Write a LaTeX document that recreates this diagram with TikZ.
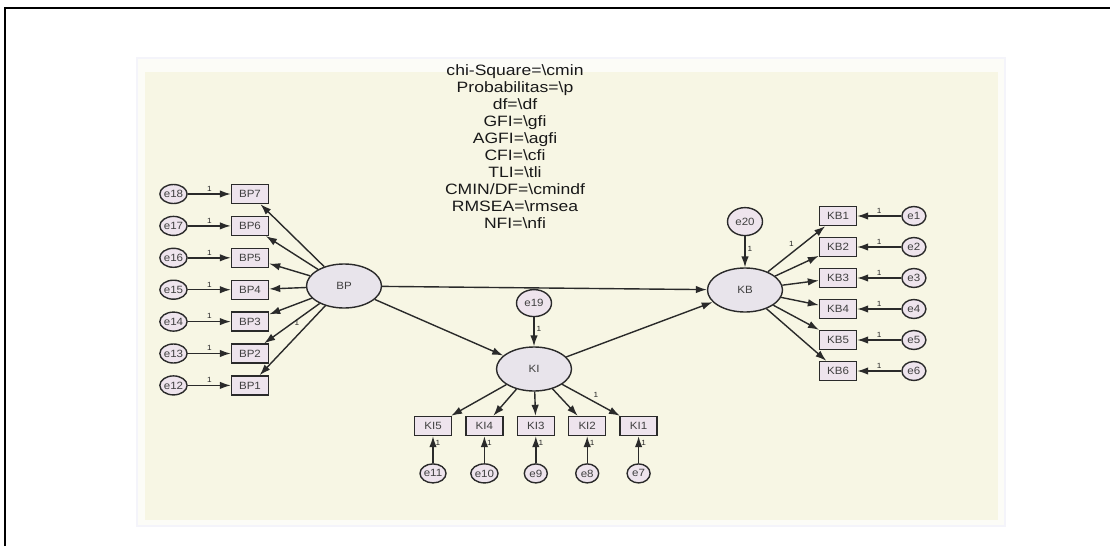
\documentclass[tikz,border=0pt]{standalone}
\usepackage{fontspec}
\setmainfont{Liberation Sans}
\newfontfamily\statfont[FakeStretch=1.17]{Liberation Sans}
\newfontfamily\labelfont[FakeStretch=1.1]{Liberation Sans}
\usetikzlibrary{positioning,arrows.meta,shapes.geometric}

\definecolor{panelcream}{HTML}{F7F6E4}
\definecolor{panelfade}{HTML}{FCFCF7}
\definecolor{panelrim}{HTML}{F4F4FA}
\definecolor{latentfill}{HTML}{E8E4EB}
\definecolor{itemfill}{HTML}{EEE4ED}
\definecolor{nodeline}{HTML}{2A2A2A}

\begin{document}
\begin{tikzpicture}[x=1pt, y=-1pt,
latentnode/.style={ellipse, draw=nodeline, line width=1.4pt, fill=latentfill, minimum width=75pt, minimum height=44pt, inner sep=0pt, font=\labelfont\fontsize{10.5}{10}\selectfont, text=black!75},
itemnode/.style={rectangle, draw=nodeline, line width=1.4pt, fill=itemfill, minimum width=37pt, minimum height=19pt, inner sep=0pt, font=\labelfont\fontsize{10.5}{10}\selectfont, text=black!75},
errnode/.style={ellipse, draw=nodeline, line width=1.4pt, fill=itemfill, minimum width=23pt, minimum height=19pt, inner sep=0pt, font=\labelfont\fontsize{10.5}{10}\selectfont, text=black!75},
bigerr/.style={errnode, minimum width=35pt, minimum height=27pt},
loadarrow/.style={-{Latex[length=11pt,width=7.5pt]}, draw=nodeline, line width=1.4pt},
one/.style={font=\labelfont\fontsize{7.5}{7}\selectfont, inner sep=2pt, text=black!85},
statnode/.style={align=center, font=\statfont\fontsize{15}{17}\selectfont, text=black!90},
]
\useasboundingbox (0,0) rectangle (1110,546);

% Panel and frame
\fill[panelfade, draw=panelrim, line width=2pt] (137,58) rectangle (1005,526);
\fill[panelcream] (145,72) rectangle (998,520);
\draw[line width=2.5pt] (5,546) -- (5,8) -- (1110,8);

% Fit text
\node[statnode] (fit) at (515,147) {chi-Square=\textbackslash cmin\\
Probabilitas=\textbackslash p\\
df=\textbackslash df\\
GFI=\textbackslash gfi\\
AGFI=\textbackslash agfi\\
CFI=\textbackslash cfi\\
TLI=\textbackslash tli\\
CMIN/DF=\textbackslash cmindf\\
RMSEA=\textbackslash rmsea\\
NFI=\textbackslash nfi};

% Latent nodes
\node[latentnode] (bp) at (344,286) {BP};
\node[latentnode] (ki) at (534,369) {KI};
\node[latentnode] (kb) at (745,290) {KB};

% BP items
\node[itemnode] (bp7) at (250,194) {BP7};
\node[itemnode] (bp6) [below=11.5pt of bp7] {BP6};
\node[itemnode] (bp5) [below=11.5pt of bp6] {BP5};
\node[itemnode] (bp4) [below=11.5pt of bp5] {BP4};
\node[itemnode] (bp3) [below=11.5pt of bp4] {BP3};
\node[itemnode] (bp2) [below=11.5pt of bp3] {BP2};
\node[itemnode] (bp1) [below=11.5pt of bp2] {BP1};
\node[errnode] (e18) [left=43pt of bp7] {e18};
\node[errnode] (e17) [left=43pt of bp6] {e17};
\node[errnode] (e16) [left=43pt of bp5] {e16};
\node[errnode] (e15) [left=43pt of bp4] {e15};
\node[errnode] (e14) [left=43pt of bp3] {e14};
\node[errnode] (e13) [left=43pt of bp2] {e13};
\node[errnode] (e12) [left=43pt of bp1] {e12};

% KI items
\node[itemnode] (ki5) at (433,426) {KI5};
\node[itemnode] (ki4) [right=13pt of ki5] {KI4};
\node[itemnode] (ki3) [right=13pt of ki4] {KI3};
\node[itemnode] (ki2) [right=13pt of ki3] {KI2};
\node[itemnode] (ki1) [right=13pt of ki2] {KI1};
\node[errnode] (e11) [below=27pt of ki5] {e11};
\node[errnode] (e10) [below=27pt of ki4] {e10};
\node[errnode] (e9) [below=27pt of ki3] {e9};
\node[errnode] (e8) [below=27pt of ki2] {e8};
\node[errnode] (e7) [below=27pt of ki1] {e7};
\node[bigerr] (e19) [above=29pt of ki] {e19};

% KB items
\node[itemnode] (kb1) at (838,216) {KB1};
\node[itemnode] (kb2) [below=10.6pt of kb1] {KB2};
\node[itemnode] (kb3) [below=10.6pt of kb2] {KB3};
\node[itemnode] (kb4) [below=10.6pt of kb3] {KB4};
\node[itemnode] (kb5) [below=10.6pt of kb4] {KB5};
\node[itemnode] (kb6) [below=10.6pt of kb5] {KB6};
\node[errnode, minimum width=24pt] (e1) [right=44pt of kb1] {e1};
\node[errnode, minimum width=24pt] (e2) [right=44pt of kb2] {e2};
\node[errnode, minimum width=24pt] (e3) [right=44pt of kb3] {e3};
\node[errnode, minimum width=24pt] (e4) [right=44pt of kb4] {e4};
\node[errnode, minimum width=24pt] (e5) [right=44pt of kb5] {e5};
\node[errnode, minimum width=24pt] (e6) [right=44pt of kb6] {e6};
\node[bigerr, minimum height=28pt] (e20) [above=31pt of kb] {e20};

% Structural arrows
\draw[loadarrow] (bp) -- (kb);
\draw[loadarrow] (bp) -- (ki);
\draw[loadarrow] (ki) -- (kb);
\draw[loadarrow] (e19) -- node[one, pos=.4, right] {1} (ki);
\draw[loadarrow] (e20) -- node[one, pos=.4, right] {1} (kb);

% BP loadings
\draw[loadarrow] (bp) -- (bp7);
\draw[loadarrow] (bp) -- (bp6);
\draw[loadarrow] (bp) -- (bp5);
\draw[loadarrow] (bp) -- (bp4);
\draw[loadarrow] (bp) -- (bp3);
\draw[loadarrow] (bp) -- node[one, pos=.5, right] {1} (bp2);
\draw[loadarrow] (bp) -- (bp1);
\draw[loadarrow] (e18) -- node[one, above] {1} (bp7);
\draw[loadarrow] (e17) -- node[one, above] {1} (bp6);
\draw[loadarrow] (e16) -- node[one, above] {1} (bp5);
\draw[loadarrow] (e15) -- node[one, above] {1} (bp4);
\draw[loadarrow] (e14) -- node[one, above] {1} (bp3);
\draw[loadarrow] (e13) -- node[one, above] {1} (bp2);
\draw[loadarrow] (e12) -- node[one, above] {1} (bp1);

% KI loadings
\draw[loadarrow] (ki) -- (ki5);
\draw[loadarrow] (ki) -- (ki4);
\draw[loadarrow] (ki) -- (ki3);
\draw[loadarrow] (ki) -- (ki2);
\draw[loadarrow] (ki) -- node[one, above right] {1} (ki1);
\draw[loadarrow] (e11) -- node[one, pos=.75, right] {1} (ki5);
\draw[loadarrow] (e10) -- node[one, pos=.75, right] {1} (ki4);
\draw[loadarrow] (e9) -- node[one, pos=.75, right] {1} (ki3);
\draw[loadarrow] (e8) -- node[one, pos=.75, right] {1} (ki2);
\draw[loadarrow] (e7) -- node[one, pos=.75, right] {1} (ki1);

% KB loadings
\draw[loadarrow] (kb) -- node[one, above left] {1} (kb1);
\draw[loadarrow] (kb) -- (kb2);
\draw[loadarrow] (kb) -- (kb3);
\draw[loadarrow] (kb) -- (kb4);
\draw[loadarrow] (kb) -- (kb5);
\draw[loadarrow] (kb) -- (kb6);
\draw[loadarrow] (e1) -- node[one, above] {1} (kb1);
\draw[loadarrow] (e2) -- node[one, above] {1} (kb2);
\draw[loadarrow] (e3) -- node[one, above] {1} (kb3);
\draw[loadarrow] (e4) -- node[one, above] {1} (kb4);
\draw[loadarrow] (e5) -- node[one, above] {1} (kb5);
\draw[loadarrow] (e6) -- node[one, above] {1} (kb6);

\end{tikzpicture}
\end{document}
